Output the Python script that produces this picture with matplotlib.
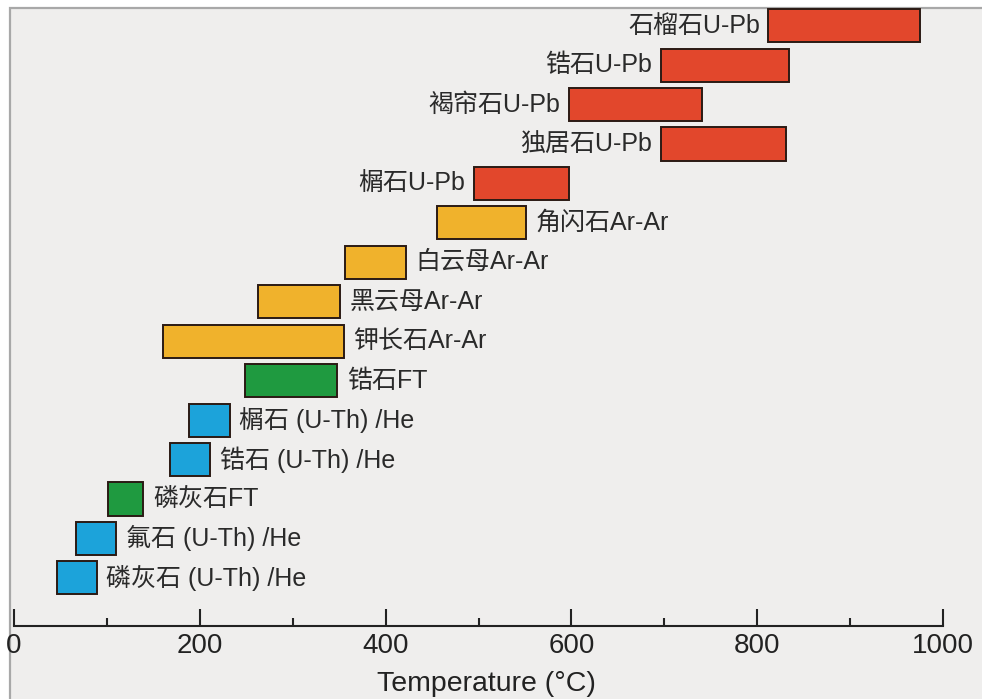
import matplotlib
matplotlib.use("Agg")
import matplotlib.pyplot as plt
from matplotlib.patches import Rectangle
from matplotlib.ticker import MultipleLocator

plt.rcParams['font.family'] = ['Liberation Sans', 'Noto Sans CJK SC', 'DejaVu Sans']

# Data (bottom to top)
labels = ['磷灰石 (U-Th) /He', '氟石 (U-Th) /He', '磷灰石FT', '锆石 (U-Th) /He', '榍石 (U-Th) /He',
          '锆石FT', '钾长石Ar-Ar', '黑云母Ar-Ar', '白云母Ar-Ar', '角闪石Ar-Ar',
          '榍石U-Pb', '独居石U-Pb', '褐帘石U-Pb', '锆石U-Pb', '石榴石U-Pb']
t_start = [46, 67, 101, 168, 188, 249, 160, 263, 356, 455, 495, 696, 597, 696, 812]
t_end = [89, 110, 139, 211, 232, 348, 355, 351, 422, 551, 597, 831, 741, 834, 975]
methods = ['He', 'He', 'FT', 'He', 'He', 'FT', 'Ar', 'Ar', 'Ar', 'Ar',
           'UPb', 'UPb', 'UPb', 'UPb', 'UPb']
method_colors = {'He': '#1ca3da', 'FT': '#1f9a40', 'Ar': '#f0b22c', 'UPb': '#e2472c'}
label_side = {'He': 'right', 'FT': 'right', 'Ar': 'right', 'UPb': 'left'}
x_ticks = [0, 200, 400, 600, 800, 1000]

W, H = 982, 699
fig = plt.figure(figsize=(W / 100, H / 100), dpi=100)
fig.patch.set_facecolor('white')
bg = Rectangle((10 / W, -0.02), (W - 10) / W + 0.05, (H - 8) / H + 0.02, transform=fig.transFigure,
               facecolor='#efeeed', edgecolor='#a8a8a8', linewidth=1.6, zorder=-5)
fig.patches.append(bg)

ax_left, ax_right = 14, 943
ax_bottom_px, ax_top_px = 626, 6
ax = fig.add_axes([ax_left / W, (H - ax_bottom_px) / H, (ax_right - ax_left) / W,
                   (ax_bottom_px - ax_top_px) / H])
ax.set_facecolor('none')
ax.set_zorder(2)

for i, (s, e, m, lab) in enumerate(zip(t_start, t_end, methods, labels)):
    ax.barh(i, e - s, left=s, height=0.84, color=method_colors[m], edgecolor='#2a1a14',
            linewidth=1.4, zorder=3)
    if label_side[m] == 'left':
        ax.annotate(lab, (s, i), xytext=(-6, 0), textcoords='offset points',
                    ha='right', va='center', fontsize=18, color='#2a2a2a')
    else:
        ax.annotate(lab, (e, i), xytext=(7, 0), textcoords='offset points',
                    ha='left', va='center', fontsize=18, color='#2a2a2a')

ax.set_xlim(0, 1000)
ax.set_ylim(-1.22, 14.5)
ax.set_xticks(x_ticks)
ax.xaxis.set_minor_locator(MultipleLocator(100))
ax.set_yticks([])
for sp in ['top', 'right', 'left']:
    ax.spines[sp].set_visible(False)
ax.spines['bottom'].set_linewidth(1.5)
ax.spines['bottom'].set_color('#222222')
ax.tick_params(axis='x', which='major', direction='in', length=12, width=1.5,
               color='#222222', labelsize=20, pad=5, labelcolor='#222222')
ax.tick_params(axis='x', which='minor', direction='in', length=6, width=1.5, color='#222222')
ax.set_xlabel('Temperature (°C)', fontsize=20.5, color='#222222')
ax.xaxis.set_label_coords(0.509, -0.093)
ax.xaxis.label.set_va('center')

fig.savefig('out.png', dpi=100, facecolor=fig.get_facecolor())
